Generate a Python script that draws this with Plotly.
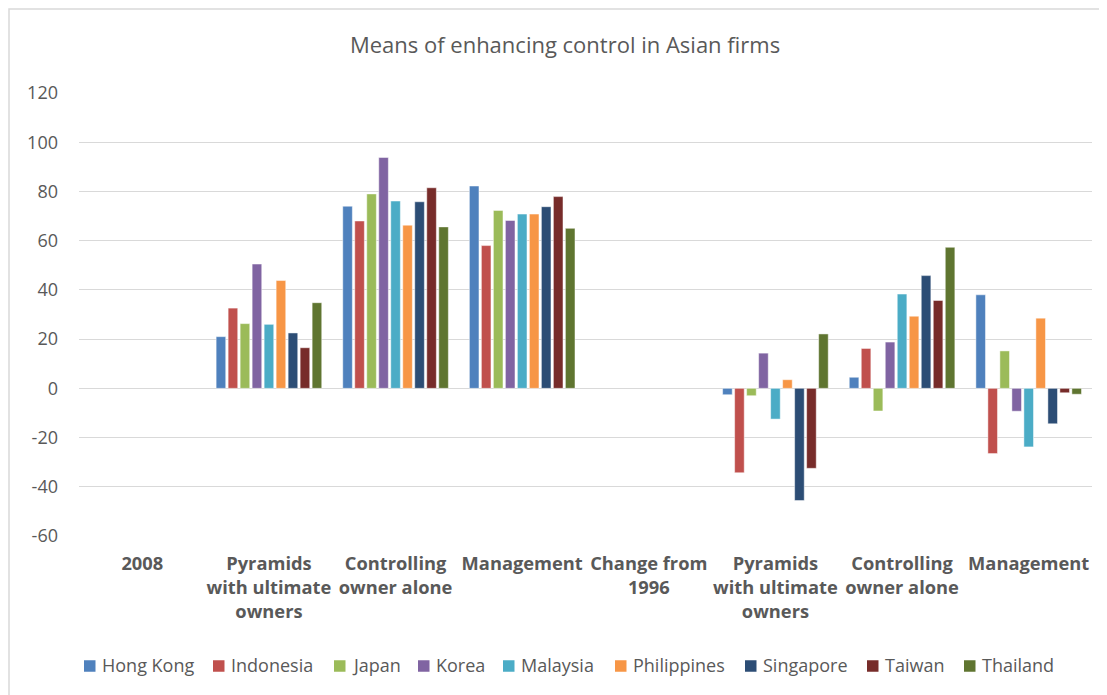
import plotly.graph_objects as go

# categories on the x axis (two blocks: 2008 levels and change from 1996)
categories = [
    "2008",
    "Pyramids<br>with ultimate<br>owners",
    "Controlling<br>owner alone",
    "Management",
    "Change from<br>1996",
    "Pyramids<br>with ultimate<br>owners",
    "Controlling<br>owner alone",
    "Management",
]

countries = ["Hong Kong", "Indonesia", "Japan", "Korea", "Malaysia",
             "Philippines", "Singapore", "Taiwan", "Thailand"]

# values per country, None for the header categories
hong_kong   = [None, 21.0, 74.0, 82.2, None, -2.6, 4.5, 38.0]
indonesia   = [None, 32.6, 68.0, 58.0, None, -34.3, 16.2, -26.5]
japan       = [None, 26.3, 79.0, 72.3, None, -3.0, -9.2, 15.2]
korea       = [None, 50.5, 93.8, 68.2, None, 14.3, 18.8, -9.3]
malaysia    = [None, 26.0, 76.1, 70.8, None, -12.5, 38.3, -23.8]
philippines = [None, 43.8, 66.3, 70.8, None, 3.5, 29.3, 28.5]
singapore   = [None, 22.5, 75.8, 73.8, None, -45.6, 45.8, -14.4]
taiwan      = [None, 16.5, 81.5, 77.9, None, -32.5, 35.7, -1.8]
thailand    = [None, 34.8, 65.6, 65.0, None, 22.1, 57.3, -2.4]

series = [hong_kong, indonesia, japan, korea, malaysia,
          philippines, singapore, taiwan, thailand]

# y tick labels with a plain hyphen, like excel
y_ticks = [-60, -40, -20, 0, 20, 40, 60, 80, 100, 120]
y_tick_labels = ["-60", "-40", "-20", "0", "20", "40", "60", "80", "100", "120"]

# excel 2010 office palette
colors = ["#4F81BD", "#C0504D", "#9BBB59", "#8064A2", "#4BACC6",
          "#F79646", "#2C4D75", "#772C2A", "#5F7530"]

FONT = "Open Sans, sans-serif"
GREY = "#595959"

# page body has an 8px margin, so the figure is laid out 8px up/left
L, T, PW, PH = 71, 85, 1013, 443
OFF = 8

def px_x(X):  # page pixel -> paper x
    return (X - OFF - L) / PW

def px_y(Y):  # page pixel -> paper y
    return (T + PH - (Y - OFF)) / PH

x_pos = list(range(len(categories)))

fig = go.Figure()
for name, vals, col in zip(countries, series, colors):
    fig.add_trace(go.Bar(
        x=x_pos, y=vals, name=name, showlegend=False,
        marker=dict(color=col, line=dict(color="rgba(255,255,255,0.6)", width=0.8)),
    ))

# light chart-area border, only left/top visible in the frame
fig.add_shape(type="rect", xref="paper", yref="paper",
              x0=px_x(9), x1=px_x(1120), y0=px_y(710), y1=px_y(9),
              line=dict(color="#D9D9D9", width=1.5), layer="below")

# excel-style legend row along the bottom (square close to its label)
legend_left = [84, 213, 334, 418, 503, 615, 745, 867, 964]
SQ = 11.5
LEG_Y = 666
for name, col, lx in zip(countries, colors, legend_left):
    fig.add_shape(type="rect", xref="paper", yref="paper",
                  x0=px_x(lx), x1=px_x(lx + SQ),
                  y0=px_y(LEG_Y + SQ / 2), y1=px_y(LEG_Y - SQ / 2),
                  line=dict(width=0), fillcolor=col)
    fig.add_annotation(text=name, xref="paper", yref="paper",
                       x=px_x(lx + SQ + 4), y=px_y(LEG_Y - 1),
                       xanchor="left", yanchor="middle", showarrow=False,
                       font=dict(size=18, color=GREY, family=FONT))

fig.update_layout(
    width=1107, height=695,
    margin=dict(l=L, r=1107 - L - PW, t=T, b=695 - T - PH),
    paper_bgcolor="white", plot_bgcolor="white",
    font=dict(family=FONT, color=GREY, size=18),
    title=dict(text="Means of enhancing control in Asian firms",
               x=(565 - OFF) / 1107, xref="container", xanchor="center",
               y=1 - (45 - OFF) / 695, yref="container", yanchor="middle",
               font=dict(size=22, color=GREY, family=FONT)),
    barmode="group", bargap=0.147, bargroupgap=0.2,
    showlegend=False,
    xaxis=dict(tickvals=x_pos, ticktext=["<b>" + c + "</b>" for c in categories],
               range=[-0.5, len(categories) - 0.5],
               showgrid=False, zeroline=False, showline=False, ticks="",
               ticklabelstandoff=15,
               tickfont=dict(size=18.3, color=GREY), tickangle=0),
    yaxis=dict(range=[-60, 120], tickvals=y_ticks, ticktext=y_tick_labels,
               showgrid=True, gridcolor="#D9D9D9",
               gridwidth=1.3, zeroline=True, zerolinecolor="#D9D9D9", zerolinewidth=1.3,
               showline=False, ticks="", ticklabelstandoff=20,
               tickfont=dict(size=18, color=GREY)),
)

fig.write_html("out.html")
